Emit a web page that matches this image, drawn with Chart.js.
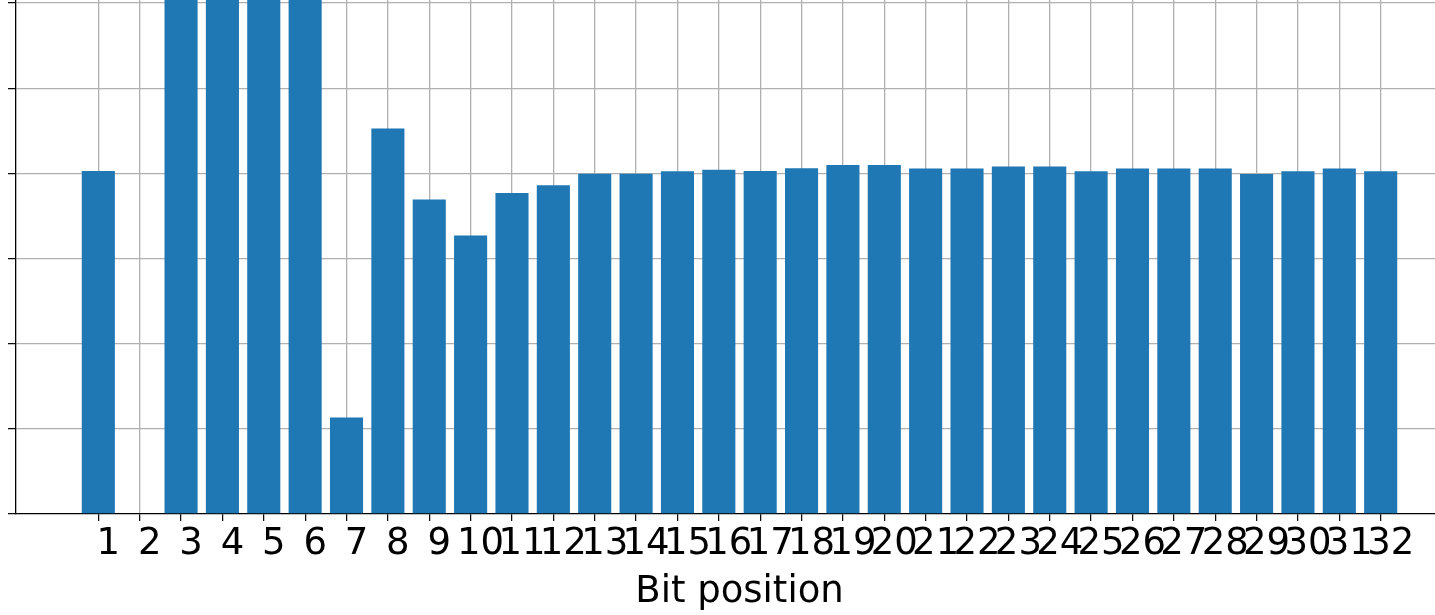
<!DOCTYPE html>
<html>
<head>
<meta charset="utf-8">
<script src="https://cdn.jsdelivr.net/npm/chart.js@4/dist/chart.umd.min.js"></script>
<style>
  html, body { margin: 0; padding: 0; background: #fff; }
  #wrap { width: 1435px; height: 615px; overflow: hidden; position: relative; }
  #chart { display: block; }
</style>
</head>
<body>
<div id="wrap"><canvas id="chart" width="1480" height="615"></canvas></div>
<script>
// data
var bitPositions = [1, 2, 3, 4, 5, 6, 7, 8, 9, 10, 11, 12, 13, 14, 15, 16,
	17, 18, 19, 20, 21, 22, 23, 24, 25, 26, 27, 28, 29, 30, 31, 32];
var tickLabels = ["1", "2", "3", "4", "5", "6", "7", "8", "9", "10", "11", "12", "13", "14", "15", "16",
	"17", "18", "19", "20", "21", "22", "23", "24", "25", "26", "27", "28", "29", "30", "31", "32"];
var onesCount = [4026, 0, 8000, 8000, 8000, 8000, 1132, 4527, 3693, 3269, 3768, 3859, 3996, 3996, 4024, 4043,
	4028, 4060, 4098, 4098, 4057, 4057, 4079, 4079, 4024, 4057, 4057, 4057, 3993, 4024, 4057, 4024];
var yGridValues = [0, 1000, 2000, 3000, 4000, 5000, 6000];

var font = "'DejaVu Sans', 'Liberation Sans', sans-serif";

var chart = new Chart(document.getElementById('chart'), {
	type: 'bar',
	data: {
		datasets: [{
			label: "Ones",
			data: bitPositions.map(function(x, i) { return { x: x, y: onesCount[i] }; }),
			backgroundColor: "#1f77b4",
			borderWidth: 0,
			barPercentage: 0.8,
			categoryPercentage: 1.0
		}]
	},
	options: {
		responsive: false,
		animation: false,
		devicePixelRatio: 1,
		layout: {
			padding: { left: 8, right: 17, top: 0, bottom: 4 }
		},
		plugins: {
			legend: { display: false },
			tooltip: { enabled: false }
		},
		scales: {
			x: {
				type: 'linear',
				min: -0.99,
				max: 33.99,
				offset: false,
				z: 1,
				afterBuildTicks: function(scale) {
					scale.ticks = bitPositions.map(function(v) { return { value: v }; });
				},
				ticks: {
					autoSkip: false,
					maxRotation: 0,
					minRotation: 0,
					padding: 5,
					labelOffset: 10,
					color: "#000",
					font: { family: font, size: 37, lineHeight: 1 },
					callback: function(value, index) { return tickLabels[index]; }
				},
				grid: {
					offset: false,
					color: "#b0b0b0",
					lineWidth: 1.3,
					tickColor: "#000",
					tickLength: 7,
					tickWidth: 1.2
				},
				border: { display: true, color: "#000", width: 1.3 },
				title: {
					display: true,
					text: "Bit position",
					color: "#000",
					font: { family: font, size: 37, lineHeight: 1 },
					padding: { top: 6, bottom: 0 }
				}
			},
			y: {
				min: 0,
				max: 6035,
				z: 1,
				afterBuildTicks: function(scale) {
					scale.ticks = yGridValues.map(function(v) { return { value: v }; });
				},
				ticks: { display: false },
				grid: {
					color: function(ctx) { return ctx.tick && ctx.tick.value === 0 ? "rgba(0,0,0,0)" : "#b0b0b0"; },
					lineWidth: 1.3,
					tickColor: "#000",
					tickLength: 8,
					tickWidth: 1.2
				},
				border: { display: true, color: "#000", width: 1.3 }
			}
		}
	}
});
</script>
</body>
</html>
